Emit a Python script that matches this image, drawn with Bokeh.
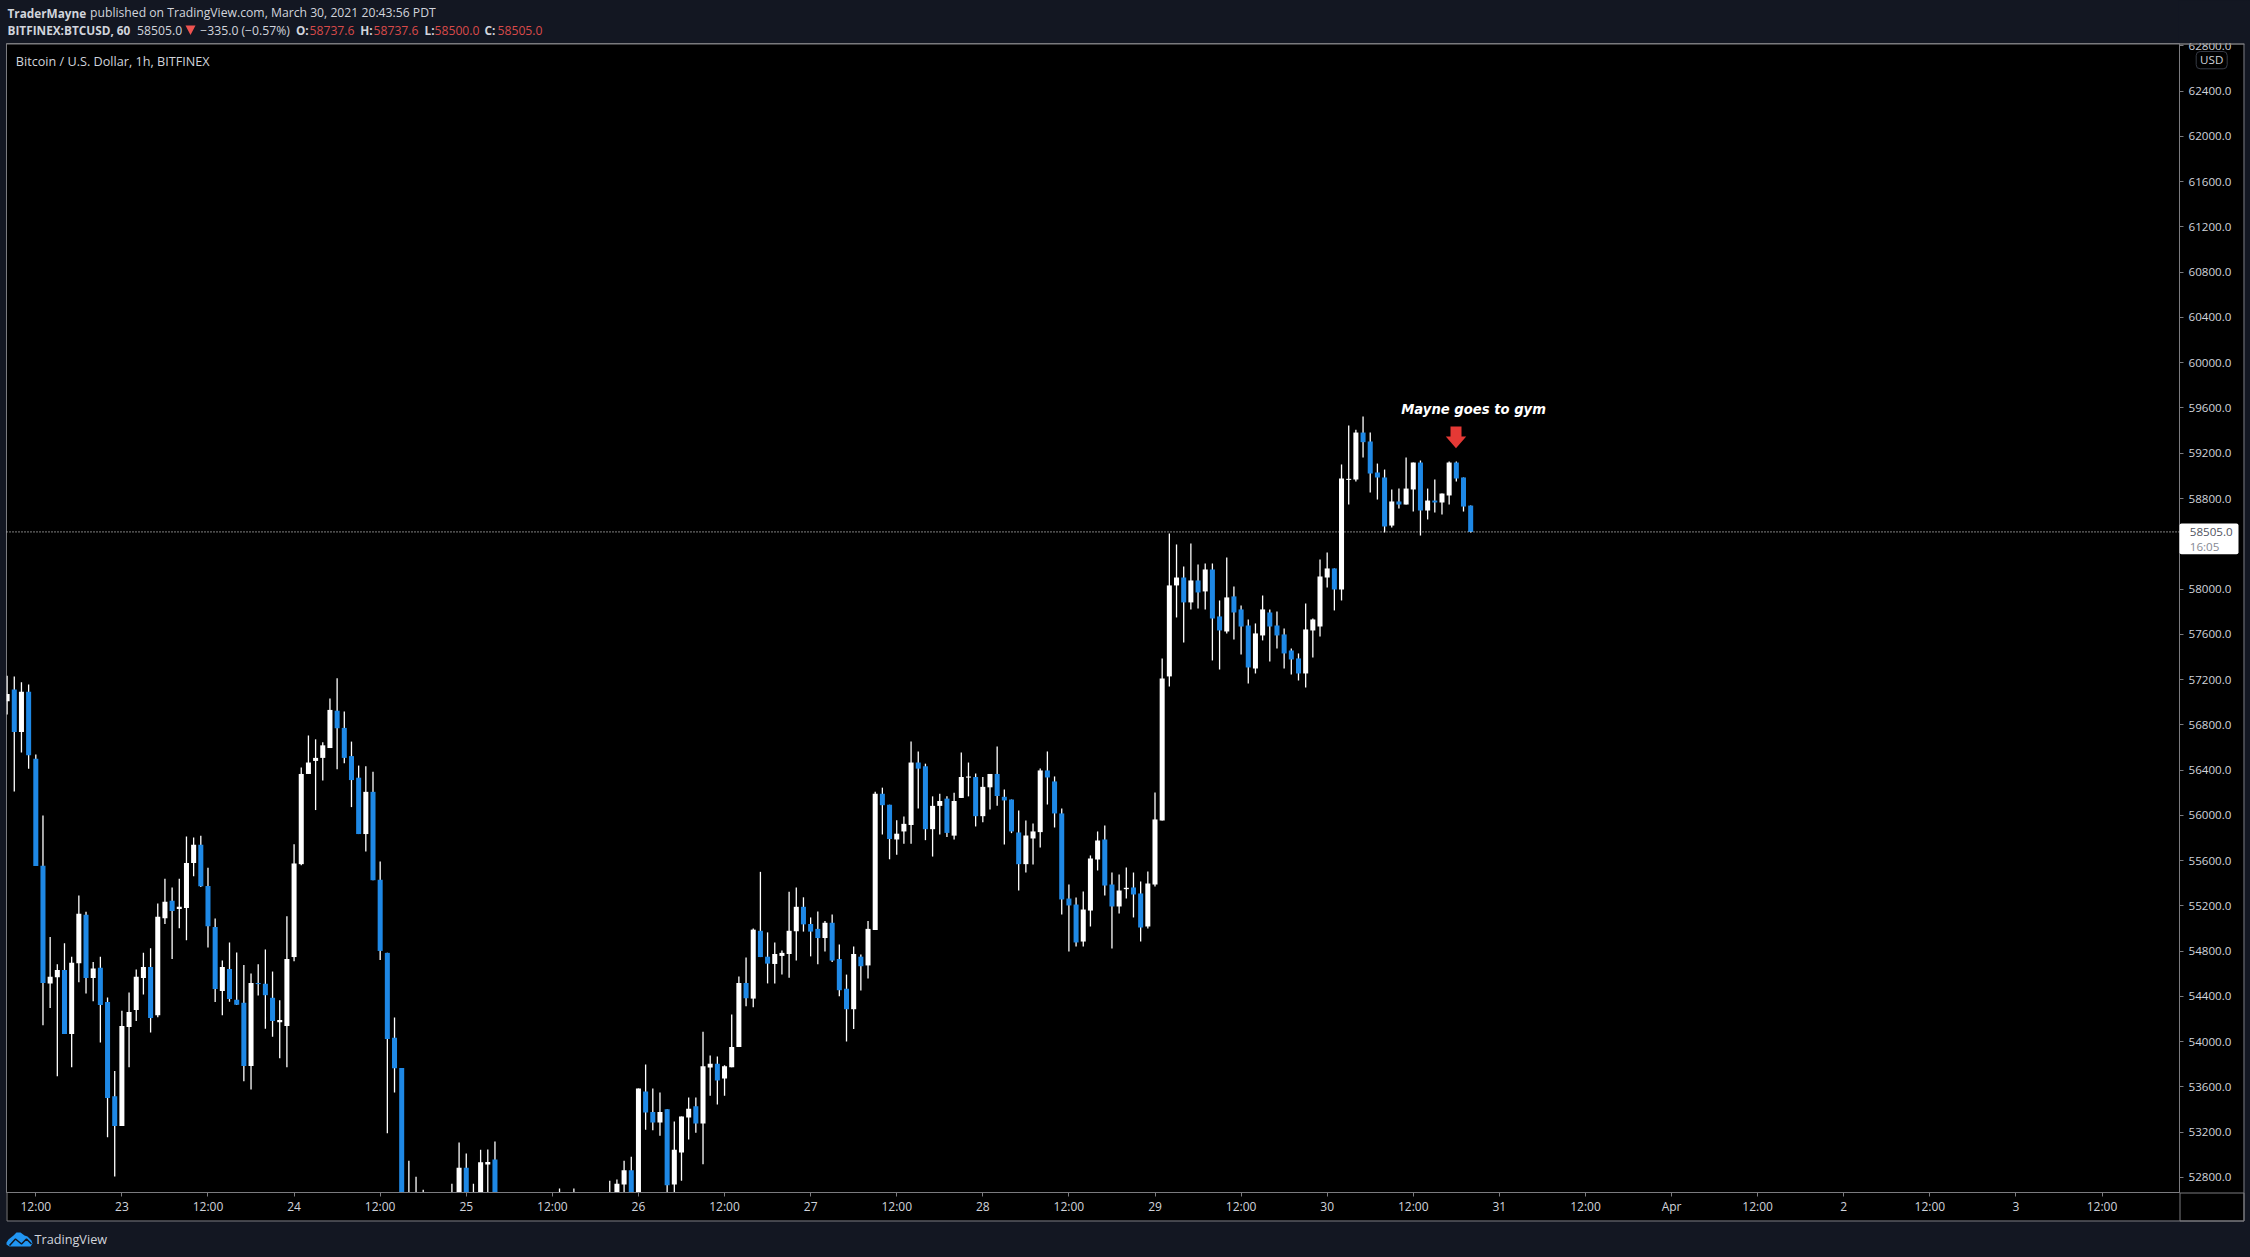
from bokeh.core.properties import value
from bokeh.embed import file_html
from bokeh.resources import INLINE
from bokeh.plotting import figure
from bokeh.models import ColumnDataSource, Range1d, FixedTicker, NumeralTickFormatter, Span

# hours counted from 2021-03-22 12:00
hours = list(range(-4, 201))
opens = [
57009,57113,56736,57093,56501,55555,54515,54569,54633,54068,
54694,55121,54563,54653,54351,53519,53254,54129,54280,54563,
54660,54233,55091,55246,55172,55182,55579,55740,55377,55013,
54448,54643,54371,54344,53785,54519,54512,54388,54172,54139,
54748,55569,56366,56481,56508,56595,56925,56773,56524,56333,
55835,56208,55431,54785,54034,53768,52400,52300,52450,52350,
52300,52400,52350,52400,52887,52350,52450,52914,52958,52400,
52450,52380,52300,52350,52280,52330,52400,52360,52420,52380,
52450,52400,52350,52380,52330,52400,52739,52863,52400,53560,
53378,53287,53402,52739,53021,53331,53429,53277,53772,53805,
53674,53775,53954,54519,54381,54980,54751,54687,54758,54775,
54976,55192,55040,54997,54916,55051,54731,54468,54287,54751,
54674,54987,56191,56094,55787,55858,55915,56467,56434,55878,
56084,56148,55821,56154,56334,56339,55993,56248,56366,56164,
56140,55849,55569,55796,55852,56397,56300,56017,55265,55212,
54885,55159,55610,55787,55389,55195,55348,55363,55310,55018,
55389,55955,57228,58032,58102,57882,58076,57979,58173,57758,
57625,57935,57820,57678,57298,57590,57793,57678,57599,57457,
57387,57254,57634,57669,58102,58182,57996,58965,58968,59383,
59304,59030,58986,58561,58774,58747,58880,59118,58694,58782,
58765,58827,59118,58986,58737.6]
highs = [
57234,57228,57177,57157,56538,55999,54926,54684,54869,54751,
55293,55148,54704,54751,54391,53742,54273,54435,54637,54785,
54825,55222,55441,55363,55441,55814,55804,55821,55538,55088,
54717,54876,54788,54677,54603,54684,54815,54620,54367,55108,
55744,56423,56706,56672,56646,57032,57211,56918,56652,56440,
56434,56386,55592,54785,54213,53768,52947,52806,52692,52600,
52620,52640,52745,53109,53011,52745,53045,53048,53119,52640,
52650,52600,52560,52550,52580,52620,52640,52702,52650,52702,
52640,52620,52600,52590,52772,52783,52947,52984,53587,53799,
53587,53550,53402,53294,53338,53506,53506,54088,53879,53869,
53792,54240,54576,54744,55000,55501,54966,54876,54805,55326,
55363,55276,55098,55151,55067,55125,54859,54593,54842,54771,
55067,56208,56245,56094,55956,55989,56652,56565,56457,56168,
56191,56168,56201,56555,56467,56370,56339,56366,56609,56229,
56140,56043,55955,55928,56414,56565,56344,56061,55389,55274,
55327,55646,55858,55911,55495,55478,55540,55495,55416,55504,
56202,57387,58491,58394,58200,58403,58217,58226,58226,57899,
58279,58023,57855,57731,57696,57943,57820,57802,57652,57475,
57431,57873,57740,58262,58323,58182,59101,59445,59407,59525,
59383,59109,59056,58880,58888,59162,59118,59136,58888,58968,
58844,59127,59127,58986,58737.6]
lows = [
56891,56211,56555,56413,55552,54145,54297,53694,54068,53775,
54526,54425,54357,53994,53156,52809,53254,53775,54182,54418,
54081,54216,55040,54731,55003,54896,55461,55367,54832,54351,
54233,54354,54324,53651,53577,54408,54115,54044,53853,53775,
54711,55559,56366,56047,56309,56595,56407,56460,56073,55835,
55680,55427,54721,53190,53550,52350,52200,52150,52200,52150,
52200,52220,52250,52250,52250,52200,52300,52500,52300,52300,
52250,52180,52150,52140,52130,52220,52200,52240,52220,52260,
52280,52230,52210,52180,52250,52300,52500,52300,52300,53223,
53217,53169,52600,52600,52772,53136,53196,52917,53523,53445,
53523,53775,53954,54314,54304,54748,54515,54515,54593,54566,
54717,54973,54754,54684,54798,54704,54401,54001,54112,54452,
54559,54987,55831,55612,55653,55750,55750,56060,55781,55636,
55831,55808,55787,56154,56168,55902,55939,56053,56084,55743,
55843,55336,55495,55566,55716,56096,55893,55124,54797,54841,
54841,55018,55513,55292,54824,55133,55265,55098,54885,55000,
55372,55955,57139,57749,57528,57820,57828,57820,57369,57289,
57608,57555,57422,57166,57254,57546,57360,57475,57298,57245,
57192,57130,57395,57581,58014,57811,57899,58747,58950,59162,
58853,58791,58500,58544,58712,58747,58685,58473,58615,58676,
58659,58747,58950,58685,58500]
closes = [
57073,56736,57093,56531,55552,54519,54573,54633,54068,54697,
55131,54563,54647,54324,53503,53254,54139,54263,54573,54660,
54209,55104,55236,55155,55192,55579,55740,55374,55020,54465,
54660,54378,54327,53785,54519,54509,54411,54182,54192,54731,
55575,56366,56467,56508,56619,56932,56770,56508,56312,55835,
56208,55427,54802,54024,53765,52400,52300,52450,52350,52300,
52400,52350,52420,52887,52350,52500,52934,52937,52400,52450,
52380,52300,52350,52280,52330,52400,52360,52420,52380,52450,
52400,52350,52380,52330,52400,52745,52863,52400,53587,53375,
53287,53378,52732,53045,53338,53408,53277,53782,53805,53657,
53782,53954,54519,54384,54990,54748,54690,54775,54785,54980,
55192,55037,54973,54916,55051,54717,54455,54287,54775,54667,
54997,56191,56090,55791,55838,55925,56467,56413,55878,56084,
56127,55845,56127,56339,56343,55993,56252,56366,56171,56132,
55858,55569,55822,55858,56397,56335,56017,55257,55204,54877,
55168,55619,55778,55380,55195,55336,55360,55301,55009,55398,
55964,57210,58032,58102,57882,58076,57970,58173,57740,57634,
57926,57793,57669,57307,57608,57820,57669,57590,57431,57378,
57254,57643,57731,58111,58182,57996,58977,58974,59383,59298,
59021,58986,58553,58774,58747,58888,59118,58694,58782,58765,
58844,59118,58977,58729,58505]
assert len(hours) == len(opens) == len(highs) == len(lows) == len(closes)

x_ticks = list(range(0, 289, 12))
x_labels = ["12:00","23","12:00","24","12:00","25","12:00","26","12:00","27","12:00","28","12:00",
            "29","12:00","30","12:00","31","12:00","Apr","12:00","2","12:00","3","12:00"]
y_ticks = list(range(52800, 63200, 400))

BG = "#131722"; GRID = "#7b7b7f"; TXT = "#d1d4dc"; WHITE = "#ffffff"; BLUE = "#1e88e5"; RED = "#d84a4a"
FONT = "Open Sans"
W, H = 2250, 1257
FL, FT, FR, FB = 6, 43, 2179, 1192
LAYER = {"position": "absolute", "left": "0px", "top": "0px"}

def pixel_layer():
    f = figure(width=W, height=H, output_backend="svg", toolbar_location=None,
               x_range=Range1d(0, W), y_range=Range1d(H, 0), x_axis_type=None, y_axis_type=None,
               min_border=0, outline_line_color=None, background_fill_color=None,
               border_fill_color=None, styles=LAYER)
    f.grid.visible = False
    return f

# ---- layer below the chart: panels of the axes
under = pixel_layer()
under.quad(left=[FR, FL], right=[2243, 2243], top=[FT, FB], bottom=[1220, 1220], fill_color="#000000", line_color=None)
under.quad(left=[FL + .5, FR + .5], right=[2243.5, 2243.5], top=[FT + .5, FB + .5], bottom=[1220.5, 1220.5],
           fill_color=None, line_color=GRID, line_width=1)

# ---- the chart
p = figure(width=W, height=H, output_backend="svg", toolbar_location=None,
           x_range=Range1d(-4.084, 298.8), y_range=Range1d(52667.4, 62821),
           y_axis_location="right", min_border_left=FL, min_border_top=FT,
           min_border_right=W-FR, min_border_bottom=H-FB,
           background_fill_color="#000000", border_fill_color=None,
           outline_line_color=GRID, styles=LAYER)
p.grid.visible = False

xa = p.xaxis[0]
xa.ticker = FixedTicker(ticks=x_ticks)
xa.major_label_overrides = dict(zip(x_ticks, x_labels))
ya = p.yaxis[0]
ya.ticker = FixedTicker(ticks=y_ticks)
ya.formatter = NumeralTickFormatter(format="0.0")
for a in (xa, ya):
    a.axis_line_color = GRID
    a.major_tick_line_color = GRID
    a.major_tick_out = 4
    a.major_tick_in = 0
    a.minor_tick_line_color = None
    a.major_label_text_color = TXT
    a.major_label_text_font = FONT
    a.major_label_text_font_size = "11.6px"
xa.major_label_text_font_size = "12px"
xa.major_label_standoff = 1
ya.major_label_standoff = 5

src = ColumnDataSource(dict(
    x=hours, o=opens, h=highs, l=lows, c=closes,
    top=[max(a, b) for a, b in zip(opens, closes)],
    bot=[min(a, b) for a, b in zip(opens, closes)],
    col=[WHITE if b >= a else BLUE for a, b in zip(opens, closes)]))
p.segment("x", "h", "x", "l", source=src, line_color=WHITE, line_width=1.3)
p.vbar(x="x", top="top", bottom="bot", width=0.70, source=src, fill_color="col", line_color=None)
p.add_layout(Span(location=closes[-1], dimension="width", line_color=WHITE, line_width=1, line_dash="1 2"))

# ---- layer above the chart: header, tag, note, footer
over = pixel_layer()

def text(s, x, y, color=TXT, size=12.2, style="normal", font=FONT, align="left"):
    over.text(x=[x], y=[y], text=[s], text_color=color, text_font=value(font), text_font_size=value(f"{size}px"),
              text_font_style=style, text_align=align, text_baseline="middle")

def shape(pts, **kw):
    over.patch(x=[q[0] for q in pts], y=[q[1] for q in pts], **kw)

# clips the top tick label
over.quad(left=[FR - 1], right=[W], top=[0], bottom=[FT - .5], fill_color=BG, line_color=None)
over.quad(left=[FL], right=[2244], top=[FT - .1], bottom=[FT + 1], fill_color=GRID, line_color=None)

# last price tag
over.quad(left=[FR], right=[2238], top=[523], bottom=[553.7], fill_color=WHITE, line_color=None, border_radius=2)
text("58505.0", 2189.3, 531.5, color="#50535e", size=11.6)
text("16:05", 2189.3, 545.5, color="#868993", size=11.6)

# currency button
over.quad(left=[2195.7], right=[2226.7], top=[51], bottom=[68.3], fill_color="#000000", line_color="#363a45",
          line_width=1, border_radius=4)
text("USD", 2211.2, 59, size=11.6, align="center")

# header
BOLD = 11.8
text("TraderMayne", 7, 12.3, style="bold", size=BOLD)
text("published on TradingView.com, March 30, 2021 20:43:56 PDT", 89.5, 12.3)
text("BITFINEX:BTCUSD, 60", 7, 29.5, style="bold", size=BOLD)
text("58505.0", 136.6, 29.5)
shape([(185, 25), (195, 25), (190, 34.5)], fill_color="#ef5350", line_color=None)
text("\u2212335.0 (\u22120.57%)", 199.8, 29.5)
for lab, lx, val, vx in (("O:", 295.4, "58737.6", 309), ("H:", 359.7, "58737.6", 373),
                         ("L:", 424, "58500.0", 434), ("C:", 484, "58505.0", 497)):
    text(lab, lx, 29.5, style="bold", size=BOLD)
    text(val, vx, 29.5, color=RED)
text("Bitcoin / U.S. Dollar, 1h, BITFINEX", 15.3, 60, size=12.65)

# note and arrow
text("Mayne goes to gym", 1400.7, 409, color=WHITE, size=13.2, style="bold italic", font="DejaVu Sans")
shape([(1450, 426), (1461, 426), (1461, 436), (1465.7, 436), (1455.5, 447.7), (1445.3, 436), (1450, 436)],
      fill_color="#e53935", line_color=None)

# footer logo
shape([(6, 1242), (8, 1239), (13, 1235), (16, 1232), (20, 1232), (24, 1235), (27, 1236), (31, 1240),
       (32, 1243), (30, 1246), (9, 1246), (6, 1244)], fill_color="#2196f3", line_color=None)
over.line(x=[9, 15, 21, 26, 31], y=[1245, 1238.5, 1243.5, 1238.5, 1243.5], line_color=BG, line_width=1.5)
text("TradingView", 34, 1238, size=12.7)

TEMPLATE = ("{% block preamble %}<style>html,body{margin:0;padding:0;background:#131722;overflow:hidden}"
            "body>div{display:block!important;position:absolute;left:0;top:0}</style>{% endblock %}")
open("out.html", "w").write(file_html([under, p, over], INLINE, title="BTCUSD", template=TEMPLATE))
